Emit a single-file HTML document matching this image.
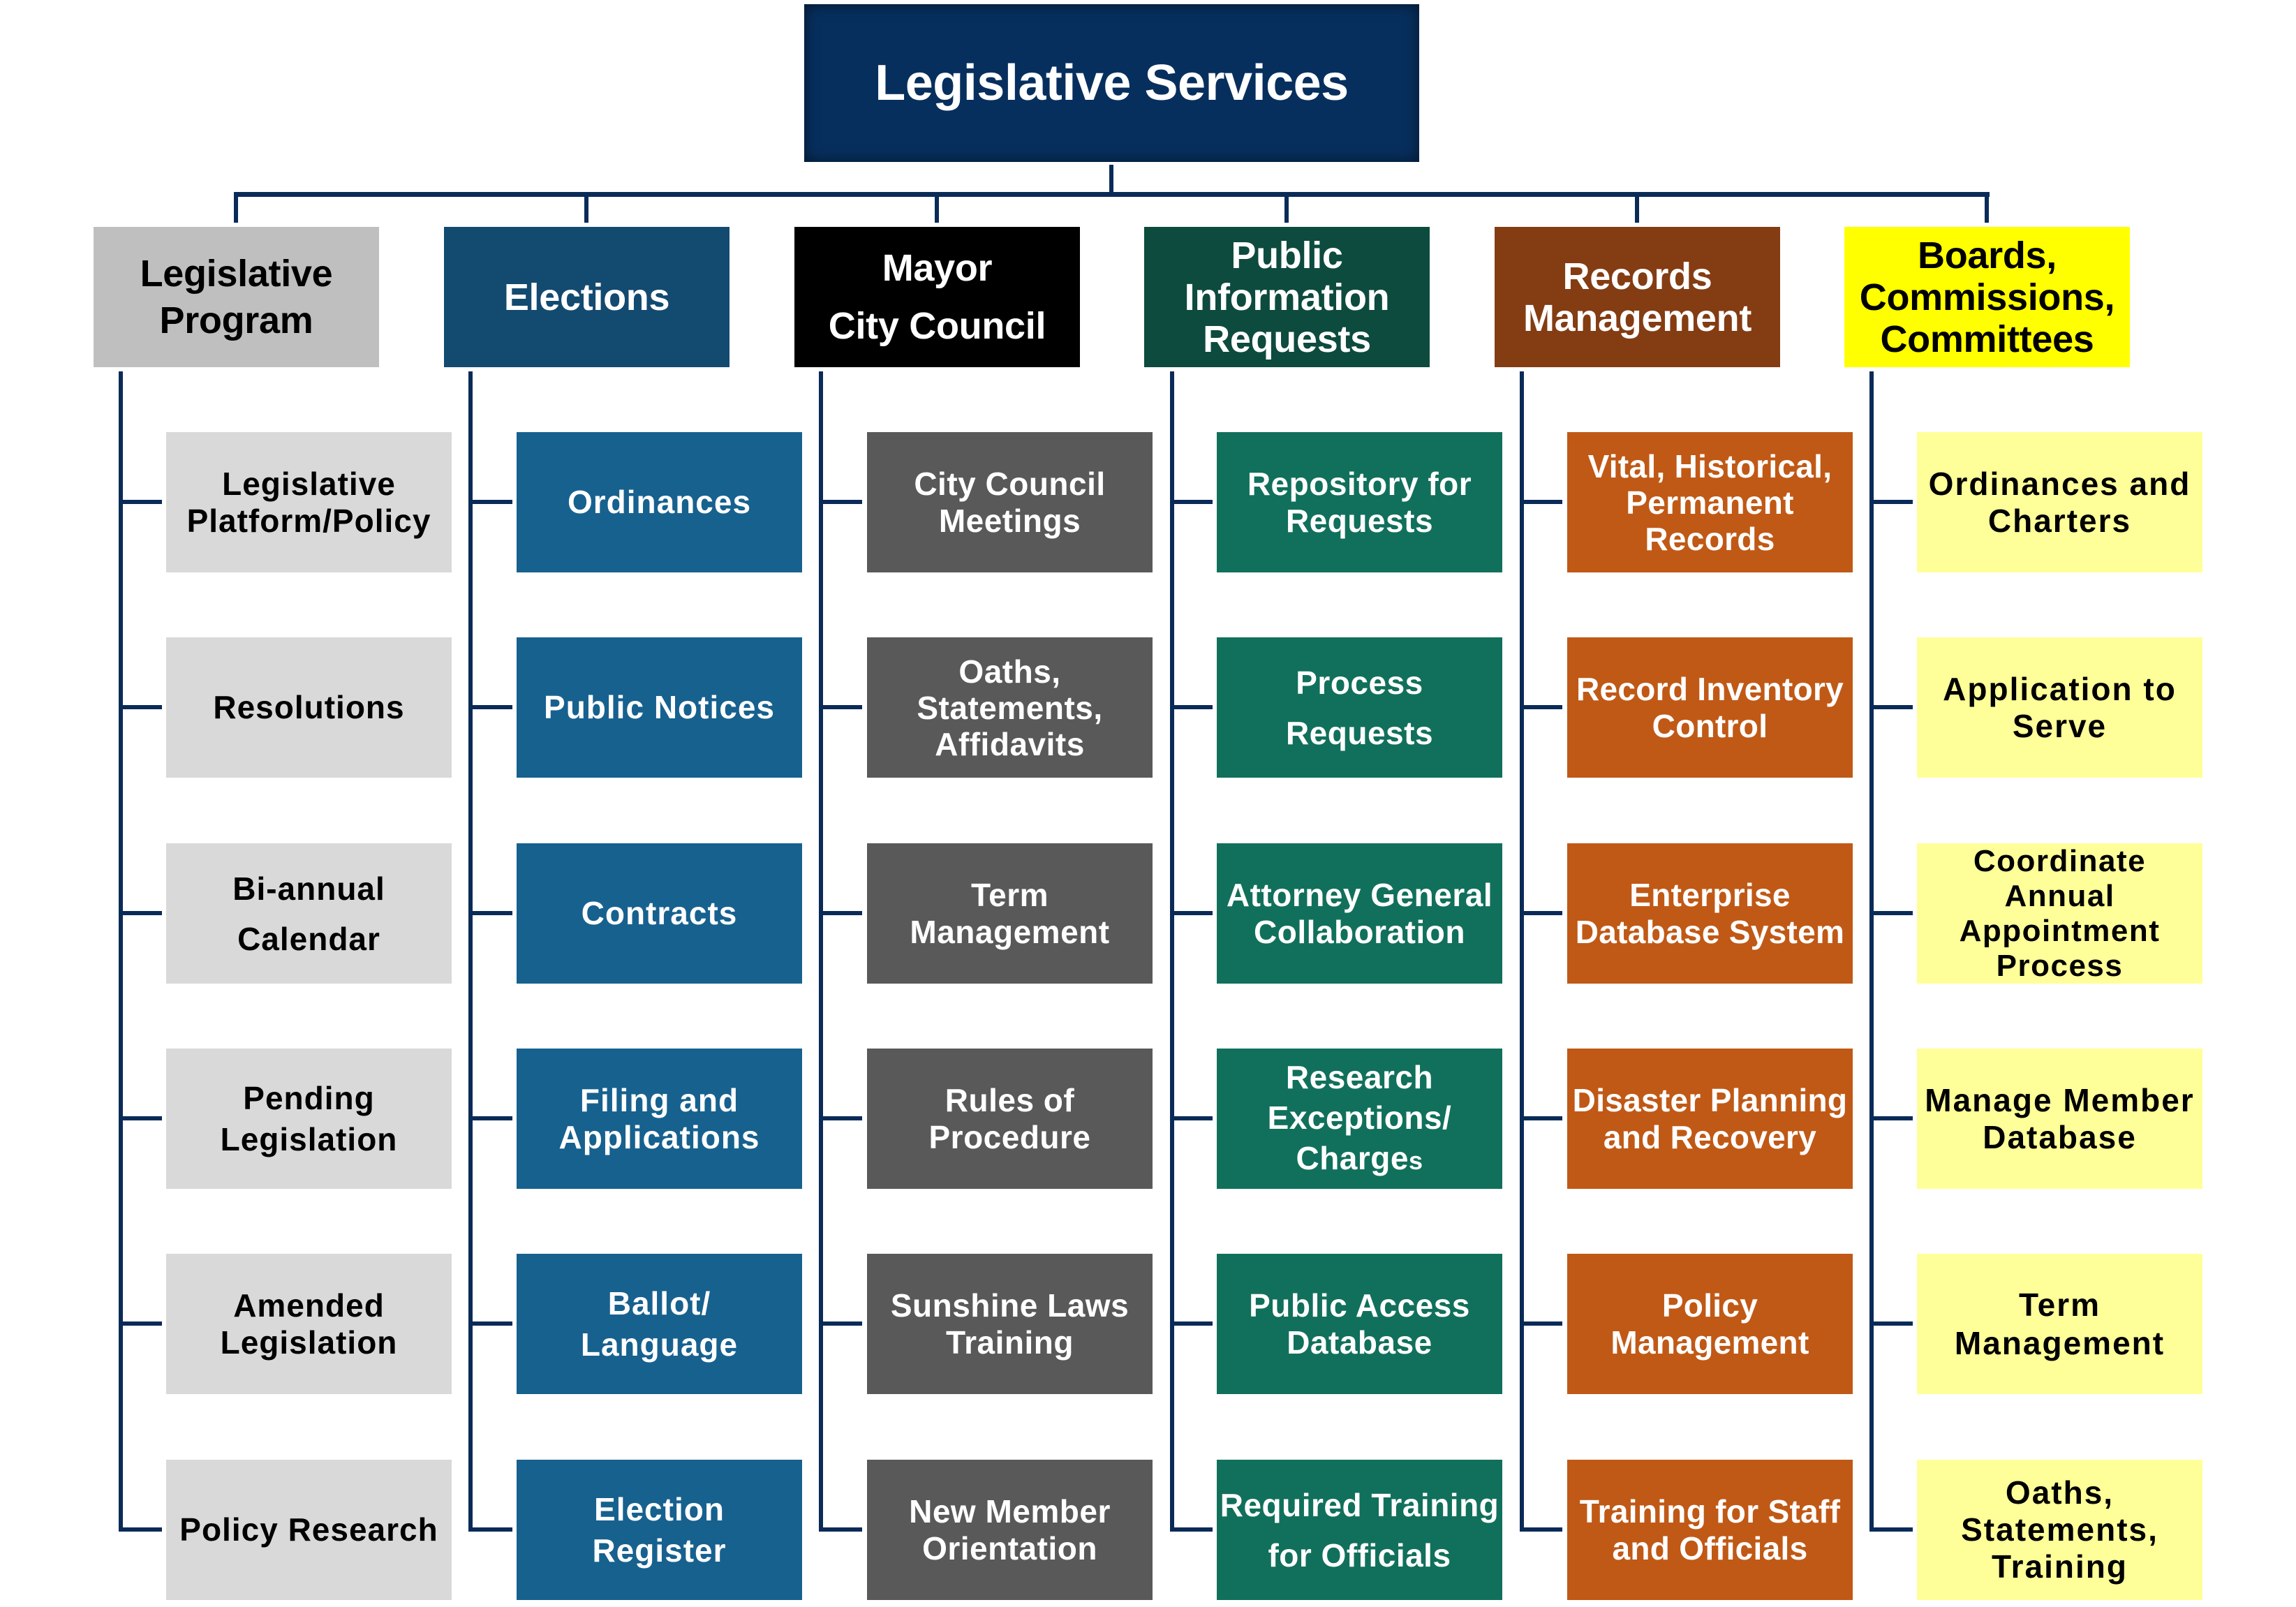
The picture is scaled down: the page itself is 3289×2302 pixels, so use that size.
<!DOCTYPE html>
<html>
<head>
<meta charset="utf-8">
<style>
  html, body { margin:0; padding:0; }
  body { width:3289px; height:2302px; position:relative; background:#ffffff; overflow:hidden;
         font-family:"Liberation Sans", "DejaVu Sans", sans-serif; font-weight:bold; }
  .b { position:absolute; display:flex; align-items:center; justify-content:center; text-align:center;
       white-space:nowrap; box-sizing:border-box; }
  .ln { position:absolute; background:#0a2b58; }
  .main { left:1152px; top:6px; width:881px; height:226px; background:#072f5e;
          box-shadow: inset 0 0 22px rgba(0,0,0,0.55); color:#fff; font-size:72px; letter-spacing:-0.5px; line-height:80px; }
  .l1 { top:325px; width:409px; height:201px; font-size:54px; line-height:60px; letter-spacing:-0.3px; }
  .ch { width:409px; height:201px; font-size:46px; line-height:53px; }
</style>
</head>
<body>

<!-- connectors top -->
<div class="ln" style="left:1589px; top:236px; width:6px; height:44px;"></div>
<div class="ln" style="left:335px; top:275px; width:2515px; height:7px;"></div>
<div class="ln" style="left:335px; top:275px; width:6px; height:44px;"></div>
<div class="ln" style="left:837px; top:275px; width:6px; height:44px;"></div>
<div class="ln" style="left:1339px; top:275px; width:6px; height:44px;"></div>
<div class="ln" style="left:1840px; top:275px; width:6px; height:44px;"></div>
<div class="ln" style="left:2342px; top:275px; width:6px; height:44px;"></div>
<div class="ln" style="left:2843px; top:275px; width:6px; height:44px;"></div>

<div class="b main">Legislative Services</div>

<!-- Level 1 -->
<div class="b l1" style="left:134px; background:#bfbfbf; color:#000; line-height:67px;">Legislative<br>Program</div>
<div class="b l1" style="left:636px; background:#134a70; color:#fff;">Elections</div>
<div class="b l1" style="left:1138px; background:#000000; color:#fff; line-height:83px;">Mayor<br>City Council</div>
<div class="b l1" style="left:1639px; background:#0d4b3e; color:#fff;">Public<br>Information<br>Requests</div>
<div class="b l1" style="left:2141px; background:#843c13; color:#fff;">Records<br>Management</div>
<div class="b l1" style="left:2642px; background:#ffff00; color:#000;">Boards,<br>Commissions,<br>Committees</div>

<!-- column vertical lines -->
<div class="ln" style="left:170px; top:532px; width:6px; height:1662px;"></div>
<div class="ln" style="left:671px; top:532px; width:6px; height:1662px;"></div>
<div class="ln" style="left:1173px; top:532px; width:6px; height:1662px;"></div>
<div class="ln" style="left:1676px; top:532px; width:6px; height:1662px;"></div>
<div class="ln" style="left:2177px; top:532px; width:6px; height:1662px;"></div>
<div class="ln" style="left:2678px; top:532px; width:6px; height:1662px;"></div>

<!-- stubs -->
<div class="ln" style="left:170px; top:716px; width:62px; height:6px;"></div>
<div class="ln" style="left:170px; top:1010px; width:62px; height:6px;"></div>
<div class="ln" style="left:170px; top:1305px; width:62px; height:6px;"></div>
<div class="ln" style="left:170px; top:1599px; width:62px; height:6px;"></div>
<div class="ln" style="left:170px; top:1893px; width:62px; height:6px;"></div>
<div class="ln" style="left:170px; top:2188px; width:62px; height:6px;"></div>

<div class="ln" style="left:671px; top:716px; width:63px; height:6px;"></div>
<div class="ln" style="left:671px; top:1010px; width:63px; height:6px;"></div>
<div class="ln" style="left:671px; top:1305px; width:63px; height:6px;"></div>
<div class="ln" style="left:671px; top:1599px; width:63px; height:6px;"></div>
<div class="ln" style="left:671px; top:1893px; width:63px; height:6px;"></div>
<div class="ln" style="left:671px; top:2188px; width:63px; height:6px;"></div>

<div class="ln" style="left:1173px; top:716px; width:62px; height:6px;"></div>
<div class="ln" style="left:1173px; top:1010px; width:62px; height:6px;"></div>
<div class="ln" style="left:1173px; top:1305px; width:62px; height:6px;"></div>
<div class="ln" style="left:1173px; top:1599px; width:62px; height:6px;"></div>
<div class="ln" style="left:1173px; top:1893px; width:62px; height:6px;"></div>
<div class="ln" style="left:1173px; top:2188px; width:62px; height:6px;"></div>

<div class="ln" style="left:1676px; top:716px; width:61px; height:6px;"></div>
<div class="ln" style="left:1676px; top:1010px; width:61px; height:6px;"></div>
<div class="ln" style="left:1676px; top:1305px; width:61px; height:6px;"></div>
<div class="ln" style="left:1676px; top:1599px; width:61px; height:6px;"></div>
<div class="ln" style="left:1676px; top:1893px; width:61px; height:6px;"></div>
<div class="ln" style="left:1676px; top:2188px; width:61px; height:6px;"></div>

<div class="ln" style="left:2177px; top:716px; width:61px; height:6px;"></div>
<div class="ln" style="left:2177px; top:1010px; width:61px; height:6px;"></div>
<div class="ln" style="left:2177px; top:1305px; width:61px; height:6px;"></div>
<div class="ln" style="left:2177px; top:1599px; width:61px; height:6px;"></div>
<div class="ln" style="left:2177px; top:1893px; width:61px; height:6px;"></div>
<div class="ln" style="left:2177px; top:2188px; width:61px; height:6px;"></div>

<div class="ln" style="left:2678px; top:716px; width:62px; height:6px;"></div>
<div class="ln" style="left:2678px; top:1010px; width:62px; height:6px;"></div>
<div class="ln" style="left:2678px; top:1305px; width:62px; height:6px;"></div>
<div class="ln" style="left:2678px; top:1599px; width:62px; height:6px;"></div>
<div class="ln" style="left:2678px; top:1893px; width:62px; height:6px;"></div>
<div class="ln" style="left:2678px; top:2188px; width:62px; height:6px;"></div>

<!-- Column 1 -->
<div class="b ch" style="left:238px; top:619px; background:#d9d9d9; color:#000; letter-spacing:1px;">Legislative<br>Platform/Policy</div>
<div class="b ch" style="left:238px; top:913px; background:#d9d9d9; color:#000; letter-spacing:1px;">Resolutions</div>
<div class="b ch" style="left:238px; top:1208px; background:#d9d9d9; color:#000; letter-spacing:1px; line-height:72px;">Bi-annual<br>Calendar</div>
<div class="b ch" style="left:238px; top:1502px; background:#d9d9d9; color:#000; letter-spacing:1px; line-height:59px;">Pending<br>Legislation</div>
<div class="b ch" style="left:238px; top:1796px; background:#d9d9d9; color:#000; letter-spacing:1px;">Amended<br>Legislation</div>
<div class="b ch" style="left:238px; top:2091px; background:#d9d9d9; color:#000; letter-spacing:1px;">Policy Research</div>

<!-- Column 2 -->
<div class="b ch" style="left:740px; top:619px; background:#17618f; color:#fff; letter-spacing:1px;">Ordinances</div>
<div class="b ch" style="left:740px; top:913px; background:#17618f; color:#fff; letter-spacing:1px;">Public Notices</div>
<div class="b ch" style="left:740px; top:1208px; background:#17618f; color:#fff; letter-spacing:1px;">Contracts</div>
<div class="b ch" style="left:740px; top:1502px; background:#17618f; color:#fff; letter-spacing:1px;">Filing and<br>Applications</div>
<div class="b ch" style="left:740px; top:1796px; background:#17618f; color:#fff; letter-spacing:1px; line-height:59px;">Ballot/<br>Language</div>
<div class="b ch" style="left:740px; top:2091px; background:#17618f; color:#fff; letter-spacing:1px; line-height:59px;">Election<br>Register</div>

<!-- Column 3 -->
<div class="b ch" style="left:1242px; top:619px; background:#595959; color:#fff; letter-spacing:0.5px;">City Council<br>Meetings</div>
<div class="b ch" style="left:1242px; top:913px; background:#595959; color:#fff; letter-spacing:0.5px; line-height:52px;">Oaths,<br>Statements,<br>Affidavits</div>
<div class="b ch" style="left:1242px; top:1208px; background:#595959; color:#fff; letter-spacing:0.5px;">Term<br>Management</div>
<div class="b ch" style="left:1242px; top:1502px; background:#595959; color:#fff; letter-spacing:0.5px;">Rules of<br>Procedure</div>
<div class="b ch" style="left:1242px; top:1796px; background:#595959; color:#fff; letter-spacing:0.5px;">Sunshine Laws<br>Training</div>
<div class="b ch" style="left:1242px; top:2091px; background:#595959; color:#fff; letter-spacing:0.5px;">New Member<br>Orientation</div>

<!-- Column 4 -->
<div class="b ch" style="left:1743px; top:619px; background:#11705b; color:#fff; letter-spacing:0.5px;">Repository for<br>Requests</div>
<div class="b ch" style="left:1743px; top:913px; background:#11705b; color:#fff; letter-spacing:0.5px; line-height:72px;">Process<br>Requests</div>
<div class="b ch" style="left:1743px; top:1208px; background:#11705b; color:#fff; letter-spacing:0.5px;">Attorney General<br>Collaboration</div>
<div class="b ch" style="left:1743px; top:1502px; background:#11705b; color:#fff; letter-spacing:0.5px; line-height:58px;"><div>Research<br>Exceptions/<br>Charge<span style="font-size:36px;">s</span></div></div>
<div class="b ch" style="left:1743px; top:1796px; background:#11705b; color:#fff; letter-spacing:0.5px;">Public Access<br>Database</div>
<div class="b ch" style="left:1743px; top:2091px; background:#11705b; color:#fff; letter-spacing:0.5px; line-height:72px;">Required Training<br>for Officials</div>

<!-- Column 5 -->
<div class="b ch" style="left:2245px; top:619px; background:#c05916; color:#fff; letter-spacing:0.3px; line-height:52px;">Vital, Historical,<br>Permanent<br>Records</div>
<div class="b ch" style="left:2245px; top:913px; background:#c05916; color:#fff; letter-spacing:0.3px;">Record Inventory<br>Control</div>
<div class="b ch" style="left:2245px; top:1208px; background:#c05916; color:#fff; letter-spacing:0.3px;">Enterprise<br>Database System</div>
<div class="b ch" style="left:2245px; top:1502px; background:#c05916; color:#fff; letter-spacing:0.3px;">Disaster Planning<br>and Recovery</div>
<div class="b ch" style="left:2245px; top:1796px; background:#c05916; color:#fff; letter-spacing:0.3px;">Policy<br>Management</div>
<div class="b ch" style="left:2245px; top:2091px; background:#c05916; color:#fff; letter-spacing:0.3px;">Training for Staff<br>and Officials</div>

<!-- Column 6 -->
<div class="b ch" style="left:2746px; top:619px; background:#ffff99; color:#000; letter-spacing:2px;">Ordinances and<br>Charters</div>
<div class="b ch" style="left:2746px; top:913px; background:#ffff99; color:#000; letter-spacing:2px;">Application to<br>Serve</div>
<div class="b ch" style="left:2746px; top:1208px; background:#ffff99; color:#000; letter-spacing:1.5px; font-size:44px; line-height:50px;">Coordinate<br>Annual<br>Appointment<br>Process</div>
<div class="b ch" style="left:2746px; top:1502px; background:#ffff99; color:#000; letter-spacing:2px;">Manage Member<br>Database</div>
<div class="b ch" style="left:2746px; top:1796px; background:#ffff99; color:#000; letter-spacing:2px; line-height:55px;">Term<br>Management</div>
<div class="b ch" style="left:2746px; top:2091px; background:#ffff99; color:#000; letter-spacing:2px;">Oaths,<br>Statements,<br>Training</div>

</body>
</html>
